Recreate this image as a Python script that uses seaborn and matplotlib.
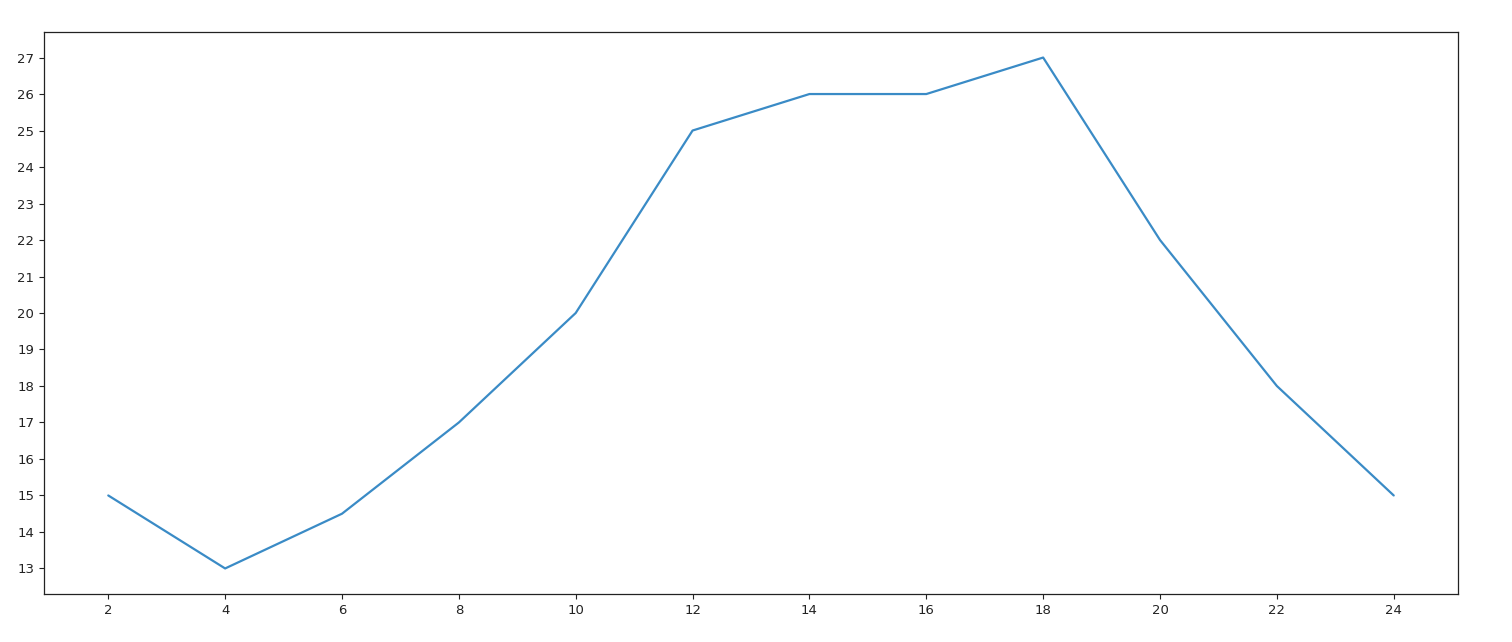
import matplotlib
matplotlib.use("Agg")
import matplotlib.pyplot as plt
import seaborn as sns
import pandas as pd

hours = [2, 4, 6, 8, 10, 12, 14, 16, 18, 20, 22, 24]
temps = [15, 13, 14.5, 17, 20, 25, 26, 26, 27, 22, 18, 15]

sns.set_style("ticks")
plt.rcParams['font.family'] = ['DejaVu Sans']

fig = plt.figure(figsize=(15.12, 6.42), dpi=100)
ax = fig.add_axes([44/1512, 1 - 594/642, (1458 - 44)/1512, (594 - 32)/642])

df = pd.DataFrame({"hour": hours, "temp": temps})
sns.lineplot(data=df, x="hour", y="temp", ax=ax, color="#3a8bc6", linewidth=1.6)

ax.set_xticks(hours)
ax.set_yticks(range(13, 28))
ax.set_xlabel("")
ax.set_ylabel("")
ax.set_xlim(0.9, 25.1)
ax.set_ylim(12.3, 27.7)
for s in ax.spines.values():
    s.set_visible(True)
    s.set_color("#222222")
    s.set_linewidth(0.9)
ax.tick_params(colors="#222222", labelsize=9.5)

fig.savefig("out.png", dpi=100)
